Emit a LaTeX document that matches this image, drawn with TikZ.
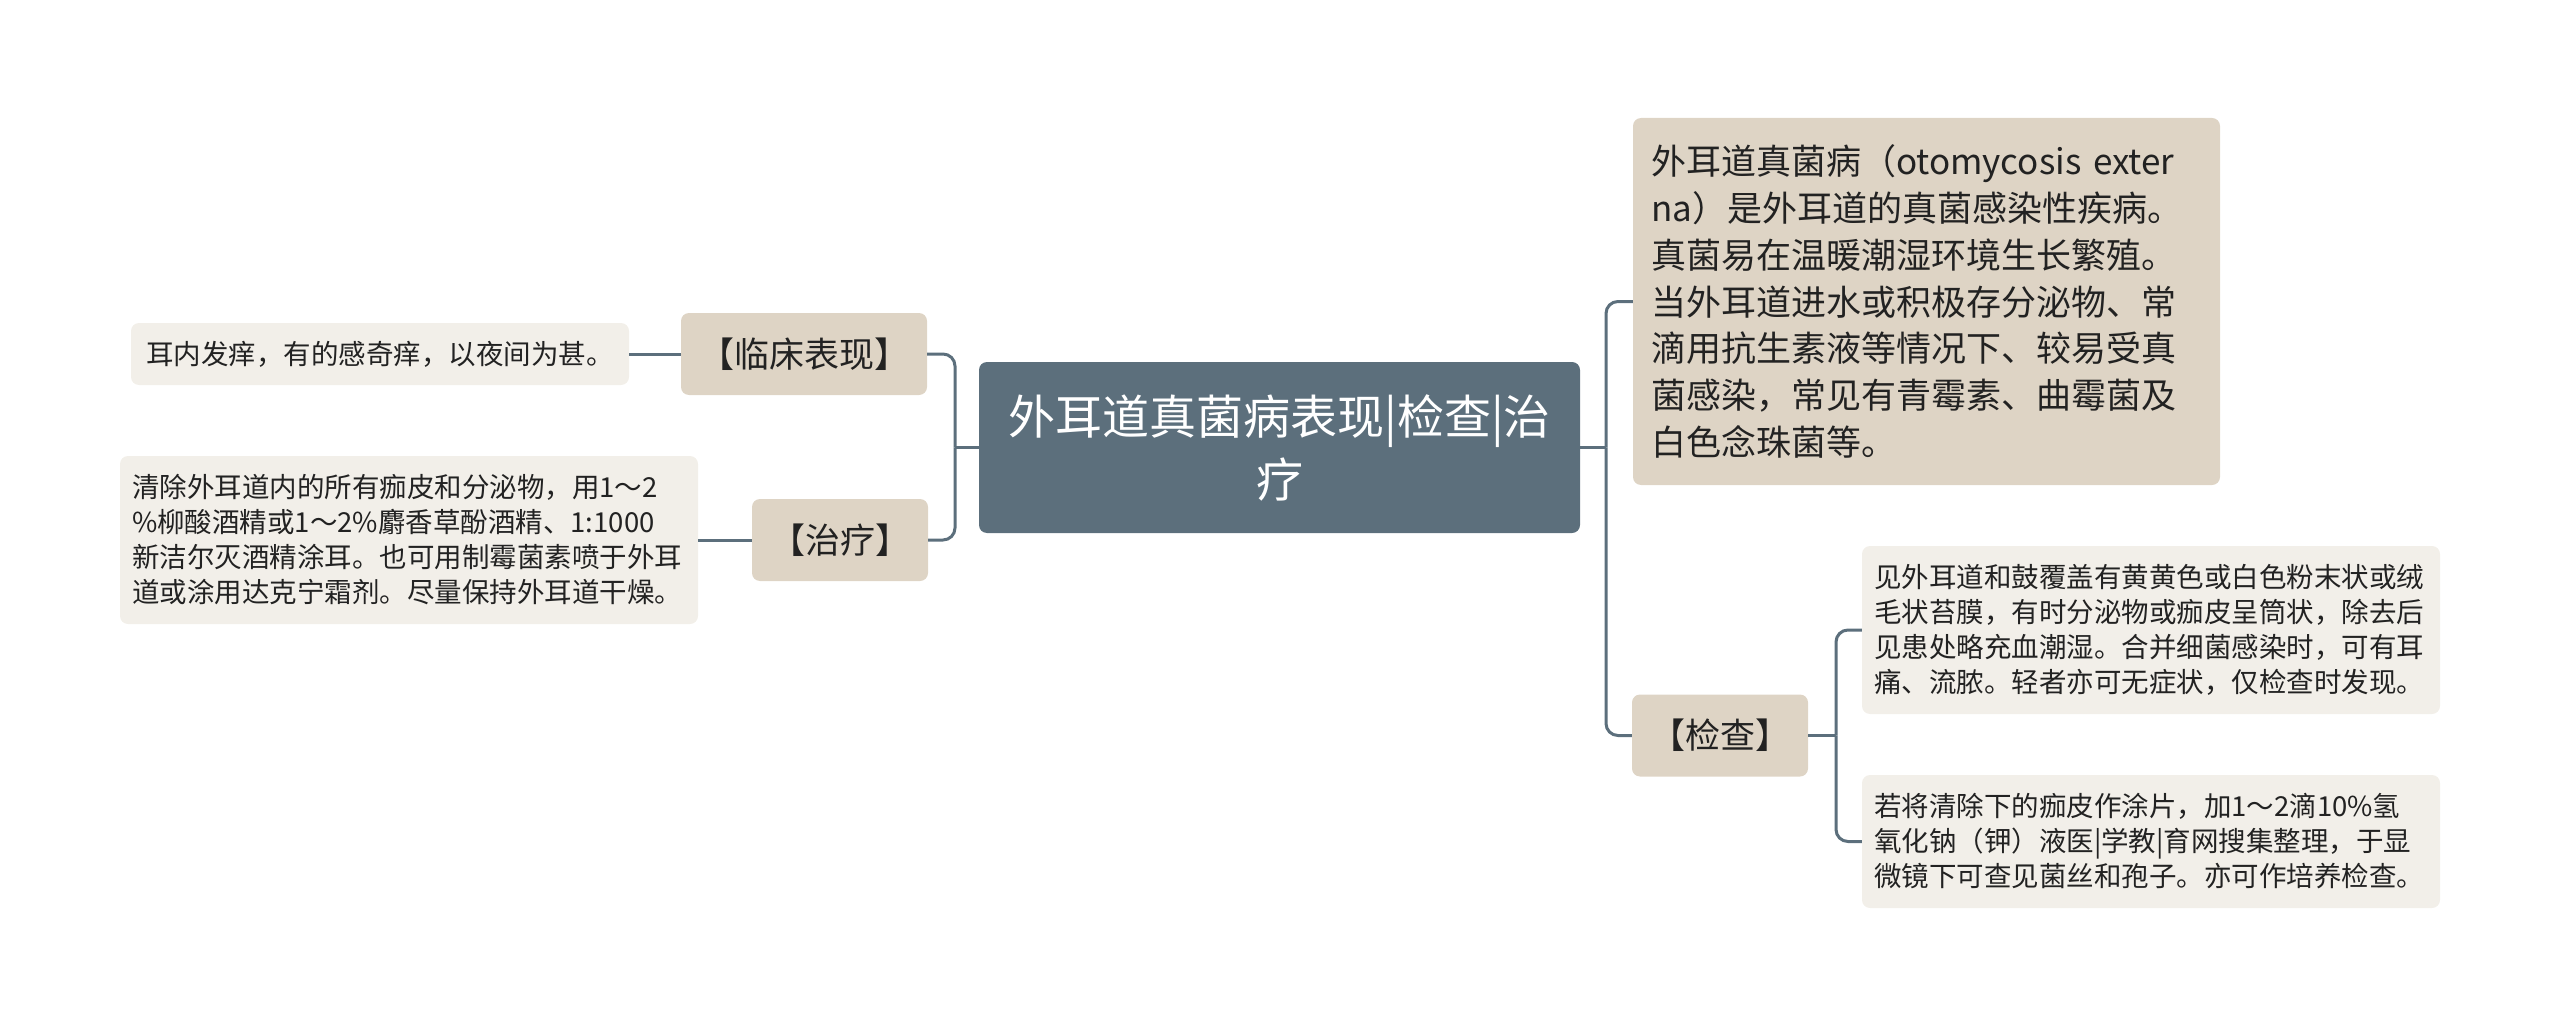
\documentclass[tikz,border=0pt]{standalone}
\usepackage{fontspec}
\setmainfont{Noto Sans CJK SC}
\usepackage{xcolor}
\usetikzlibrary{positioning,calc}
\definecolor{earslate}{RGB}{92,111,124}
\definecolor{earbeige}{RGB}{222,212,197}
\definecolor{earlight}{RGB}{242,239,233}
\definecolor{eartext}{RGB}{34,34,34}

\tikzset{
    topic/.style={fill=earslate, text=white, rounded corners=8pt, align=center,
        minimum width=601pt, minimum height=171pt,
        font=\fontsize{47}{63}\selectfont},
    branch/.style={fill=earbeige, text=eartext, rounded corners=8pt,
        minimum height=82pt, font=\fontsize{35}{46.7}\selectfont},
    leaf/.style={fill=earlight, text=eartext, rounded corners=8pt,
        inner xsep=12pt, text width=554pt, align=left,
        font=\fontsize{27.5}{35}\selectfont},
    link/.style={draw=earslate, line width=3pt, rounded corners=12pt}
}

\begin{document}
\begin{tikzpicture}[x=1pt, y=-1pt]
    \useasboundingbox (0,0) rectangle (2560,1027);
    % Central topic
    \node[topic] (topic) at (1279.5,447.5) {外耳道真菌病表现|检查|治\\疗};
    % Right side
    \node[branch, inner xsep=18pt, text width=551pt, align=left, minimum height=367pt]
        (define) at (1926.5,301.5)
        {外耳道真菌病（otomycosis exter\\na）是外耳道的真菌感染性疾病。\\真菌易在温暖潮湿环境生长繁殖。\\当外耳道进水或积极存分泌物、常\\滴用抗生素液等情况下、较易受真\\菌感染，常见有青霉素、曲霉菌及\\白色念珠菌等。};
    \node[branch, minimum width=176pt] (check) at (1720,735.5) {【检查】};
    \node[leaf, minimum height=168pt] (checkA) at (2151,630)
        {见外耳道和鼓覆盖有黄黄色或白色粉末状或绒\\毛状苔膜，有时分泌物或痂皮呈筒状，除去后\\见患处略充血潮湿。合并细菌感染时，可有耳\\痛、流脓。轻者亦可无症状，仅检查时发现。};
    \node[leaf, minimum height=133pt] (checkB) at (2151,841.5)
        {若将清除下的痂皮作涂片，加1～2滴10\%氢\\氧化钠（钾）液医|学教|育网搜集整理，于显\\微镜下可查见菌丝和孢子。亦可作培养检查。};
    % Left side
    \node[branch, minimum width=246pt] (clinic) at (804,354) {【临床表现】};
    \node[leaf, text width=, align=center, minimum width=498pt, minimum height=62pt]
        (clinicA) at (380,354) {耳内发痒，有的感奇痒，以夜间为甚。};
    \node[branch, minimum width=176pt] (treat) at (840,540) {【治疗】};
    \node[leaf, minimum height=168pt] (treatA) at (409,540)
        {清除外耳道内的所有痂皮和分泌物，用1～2\\\%柳酸酒精或1～2\%麝香草酚酒精、1:1000\\新洁尔灭酒精涂耳。也可用制霉菌素喷于外耳\\道或涂用达克宁霜剂。尽量保持外耳道干燥。};
    % Junctions
    \coordinate (jright) at (1606,447.5);
    \coordinate (jleft) at (955,447.5);
    \coordinate (jcheck) at (1836,735.5);
    % Connectors
    \draw[link] (topic.east) -- (jright);
    \draw[link] (jright) |- (define.west);
    \draw[link] (jright) |- (check.west);
    \draw[link] (check.east) -- (jcheck);
    \draw[link] (jcheck) |- (checkA.west);
    \draw[link] (jcheck) |- (checkB.west);
    \draw[link] (topic.west) -- (jleft);
    \draw[link] (jleft) |- (clinic.east);
    \draw[link] (jleft) |- (treat.east);
    \draw[link] (clinic.west) -- (clinicA.east);
    \draw[link] (treat.west) -- (treatA.east);
\end{tikzpicture}
\end{document}
